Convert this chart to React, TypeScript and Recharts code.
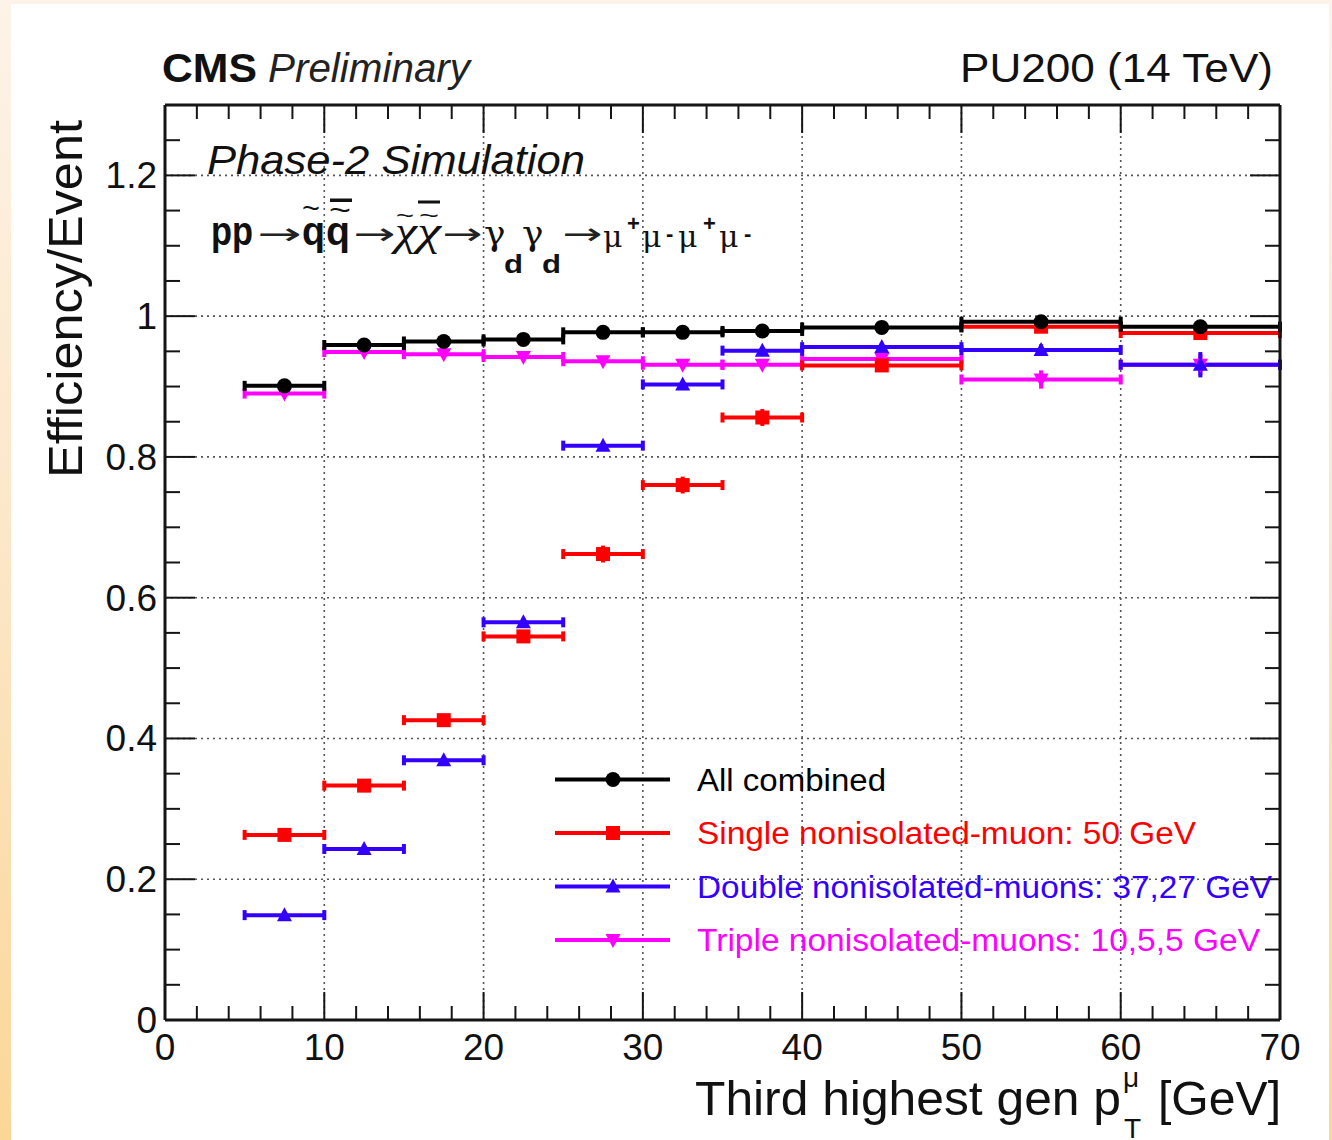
import React from 'react';
import { ComposedChart, Scatter, XAxis, YAxis, ErrorBar, ReferenceLine } from 'recharts';

// ---- data ----
const binCenters = [7.5, 12.5, 17.5, 22.5, 27.5, 32.5, 37.5, 45, 55, 65];
const binHalfWidths = [2.5, 2.5, 2.5, 2.5, 2.5, 2.5, 2.5, 5, 5, 5];

const allCombined = [0.901, 0.959, 0.964, 0.967, 0.977, 0.977, 0.979, 0.984, 0.992, 0.985];
const allCombinedErr = [0.004, 0.002, 0.002, 0.002, 0.002, 0.002, 0.002, 0.002, 0.003, 0.005];
const singleMuon = [0.263, 0.333, 0.426, 0.545, 0.662, 0.760, 0.856, 0.930, 0.985, 0.976];
const singleMuonErr = [0.005, 0.005, 0.005, 0.006, 0.012, 0.012, 0.012, 0.004, 0.004, 0.008];
const doubleMuon = [0.149, 0.243, 0.369, 0.565, 0.816, 0.903, 0.951, 0.956, 0.952, 0.931];
const doubleMuonErr = [0.004, 0.004, 0.005, 0.006, 0.005, 0.004, 0.004, 0.005, 0.008, 0.018];
const tripleMuon = [0.890, 0.949, 0.946, 0.942, 0.936, 0.931, 0.931, 0.939, 0.910, 0.931];
const tripleMuonErr = [0.004, 0.002, 0.002, 0.003, 0.003, 0.003, 0.003, 0.005, 0.013, 0.015];

const xTicks = [0, 2, 4, 6, 8, 10, 12, 14, 16, 18, 20, 22, 24, 26, 28, 30, 32, 34, 36, 38, 40, 42, 44, 46, 48, 50, 52, 54, 56, 58, 60, 62, 64, 66, 68, 70];
const xMajorTicks = [0, 10, 20, 30, 40, 50, 60, 70];
const yTicks = [0, 0.05, 0.1, 0.15, 0.2, 0.25, 0.3, 0.35, 0.4, 0.45, 0.5, 0.55, 0.6, 0.65, 0.7, 0.75, 0.8, 0.85, 0.9, 0.95, 1, 1.05, 1.1, 1.15, 1.2, 1.25, 1.3];
const yMajorTicks = [0, 0.2, 0.4, 0.6, 0.8, 1, 1.2];
const yMajorLabels = ['0', '0.2', '0.4', '0.6', '0.8', '1', '1.2'];
const xGridValues = [10, 20, 30, 40, 50, 60];
const yGridValues = [0.2, 0.4, 0.6, 0.8, 1, 1.2];

const seriesNames = [
  'All combined',
  'Single nonisolated-muon: 50 GeV',
  'Double nonisolated-muons: 37,27 GeV',
  'Triple nonisolated-muons: 10,5,5 GeV',
];

const BLACK = '#000000';
const RED = '#ff0000';
const BLUE = '#3300ff';
const MAGENTA = '#ff00ff';
const FONT = '"Liberation Sans", Arial, Helvetica, sans-serif';
const SERIF = '"Liberation Serif", "DejaVu Serif", serif';
const DSERIF = '"DejaVu Serif", serif';
const AXIS = '#151515';

const makeSeries = (vals: number[], errs: number[]) =>
  binCenters.map((x, i) => ({ x, y: vals[i], xe: binHalfWidths[i], ye: errs[i] }));

const dataAll = makeSeries(allCombined, allCombinedErr);
const dataSingle = makeSeries(singleMuon, singleMuonErr);
const dataDouble = makeSeries(doubleMuon, doubleMuonErr);
const dataTriple = makeSeries(tripleMuon, tripleMuonErr);

// ---- markers ----
const circleMarker = (c: string) => (p: any) => <circle cx={p.cx} cy={p.cy} r={7.5} fill={c} />;
const squareMarker = (c: string) => (p: any) => <rect x={p.cx - 7} y={p.cy - 7} width={14} height={14} fill={c} />;
const triUpMarker = (c: string) => (p: any) => (
  <polygon points={`${p.cx},${p.cy - 8} ${p.cx - 7.5},${p.cy + 6} ${p.cx + 7.5},${p.cy + 6}`} fill={c} />
);
const triDownMarker = (c: string) => (p: any) => (
  <polygon points={`${p.cx},${p.cy + 8} ${p.cx - 7.5},${p.cy - 6} ${p.cx + 7.5},${p.cy - 6}`} fill={c} />
);

const isMajorX = (v: number) => xMajorTicks.indexOf(v) >= 0;
const majorYIndex = (v: number) => yMajorTicks.findIndex((m) => Math.abs(m - v) < 1e-6);

// ---- ticks (ROOT style, inward) ----
const XTickBottom = (props: any) => {
  const { x, y, payload } = props;
  const major = isMajorX(payload.value);
  return (
    <g>
      <line x1={x} x2={x} y1={y} y2={y - (major ? 28 : 14)} stroke={AXIS} strokeWidth={2} />
      {major && (
        <text x={x} y={y + 40} textAnchor="middle" fontSize={37} fontFamily={FONT} fill="#111">
          {payload.value}
        </text>
      )}
    </g>
  );
};
const XTickTop = (props: any) => {
  const { x, y, payload } = props;
  const major = isMajorX(payload.value);
  return <line x1={x} x2={x} y1={y} y2={y + (major ? 28 : 14)} stroke={AXIS} strokeWidth={2} />;
};
const YTickLeft = (props: any) => {
  const { x, y, payload } = props;
  const mi = majorYIndex(payload.value);
  const major = mi >= 0;
  return (
    <g>
      <line x1={x} x2={x + (major ? 30 : 15)} y1={y} y2={y} stroke={AXIS} strokeWidth={2} />
      {major && (
        <text x={x - 8} y={y + 13} textAnchor="end" fontSize={37} fontFamily={FONT} fill="#111">
          {yMajorLabels[mi]}
        </text>
      )}
    </g>
  );
};
const YTickRight = (props: any) => {
  const { x, y, payload } = props;
  const major = majorYIndex(payload.value) >= 0;
  return <line x1={x} x2={x - (major ? 30 : 15)} y1={y} y2={y} stroke={AXIS} strokeWidth={2} />;
};

const axisLine = { stroke: AXIS, strokeWidth: 3 };

const seriesDefs = [
  { data: dataTriple, color: MAGENTA, marker: triDownMarker },
  { data: dataDouble, color: BLUE, marker: triUpMarker },
  { data: dataSingle, color: RED, marker: squareMarker },
  { data: dataAll, color: BLACK, marker: circleMarker },
];

const legendDefs = [
  { name: seriesNames[0], color: BLACK, marker: circleMarker, len: 189 },
  { name: seriesNames[1], color: RED, marker: squareMarker, len: 499 },
  { name: seriesNames[2], color: BLUE, marker: triUpMarker, len: 575 },
  { name: seriesNames[3], color: MAGENTA, marker: triDownMarker, len: 563 },
];

const Overlay = () => {
  const tilde = (x: number, y: number, len: number, size: number) => (
    <text x={x} y={y} fontSize={size} fontFamily={FONT} textLength={len} lengthAdjust="spacingAndGlyphs" fill="#111">~</text>
  );
  const arrow = (x: number, len: number) => (
    <text
      transform={`translate(${x},244) scale(${(len / 25).toFixed(3)},1)`}
      fontSize={30}
      fontFamily='"DejaVu Sans", sans-serif'
      fill="#222"
    >
      →
    </text>
  );
  const mu = (x: number) => (
    <text x={x} y={247} fontSize={30} fontFamily={DSERIF} fill="#111">μ</text>
  );
  const sup = (x: number, s: string) => (
    <text x={x} y={s === '+' ? 231 : 241} fontSize={22} fontWeight="bold" fontFamily={FONT} fill="#111">{s}</text>
  );
  return (
    <svg width={1332} height={1140} style={{ position: 'absolute', left: 0, top: 0, pointerEvents: 'none' }}>
      {/* header */}
      <text x={162} y={82} fontSize={40} fontWeight="bold" fontFamily={FONT} textLength={95} lengthAdjust="spacingAndGlyphs" fill="#111">CMS</text>
      <text x={268} y={82} fontSize={40} fontStyle="italic" fontFamily={FONT} textLength={202} lengthAdjust="spacingAndGlyphs" fill="#222">Preliminary</text>
      <text x={960} y={82} fontSize={40} fontFamily={FONT} textLength={313} lengthAdjust="spacingAndGlyphs" fill="#111">PU200 (14 TeV)</text>

      {/* inside labels */}
      <text x={207} y={174} fontSize={40} fontStyle="italic" fontFamily={FONT} textLength={378} lengthAdjust="spacingAndGlyphs" fill="#111">Phase-2 Simulation</text>

      {/* process formula */}
      <text x={211} y={245} fontSize={40} fontWeight="bold" fontFamily={FONT} textLength={42} lengthAdjust="spacingAndGlyphs" fill="#111">pp</text>
      {arrow(257, 44)}
      <text x={302} y={245} fontSize={40} fontWeight="bold" fontFamily={FONT} textLength={23} lengthAdjust="spacingAndGlyphs" fill="#111">q</text>
      <text x={326} y={245} fontSize={40} fontWeight="bold" fontFamily={FONT} textLength={24} lengthAdjust="spacingAndGlyphs" fill="#111">q</text>
      {tilde(302, 218, 18, 28)}
      {tilde(329, 220, 22, 28)}
      <rect x={330} y={198.5} width={22} height={3.5} fill="#111" />
      {arrow(353, 42)}
      <text x={395} y={245} fontSize={40} fontStyle="italic" fontFamily={SERIF} textLength={22} lengthAdjust="spacingAndGlyphs" fill="#111">χ</text>
      <text x={417} y={245} fontSize={40} fontStyle="italic" fontFamily={SERIF} textLength={24} lengthAdjust="spacingAndGlyphs" fill="#111">χ</text>
      {tilde(396, 223, 18, 22)}
      {tilde(419, 223, 20, 22)}
      <rect x={418} y={200.5} width={22} height={3} fill="#111" />
      {arrow(442, 40)}
      <text x={484} y={245} fontSize={36} fontFamily={DSERIF} fill="#111">γ</text>
      <text x={504} y={273} fontSize={26} fontWeight="bold" fontFamily={FONT} textLength={19} lengthAdjust="spacingAndGlyphs" fill="#111">d</text>
      <text x={522} y={245} fontSize={36} fontFamily={DSERIF} fill="#111">γ</text>
      <text x={542} y={273} fontSize={26} fontWeight="bold" fontFamily={FONT} textLength={19} lengthAdjust="spacingAndGlyphs" fill="#111">d</text>
      {arrow(562, 40)}
      {mu(603)}
      {sup(627, '+')}
      {mu(642)}
      {sup(666, '-')}
      {mu(678)}
      {sup(703, '+')}
      {mu(719)}
      {sup(744, '-')}

      {/* axis titles */}
      <text transform="translate(82,299) rotate(-90)" textAnchor="middle" fontSize={48} fontFamily={FONT} textLength={358} lengthAdjust="spacingAndGlyphs" fill="#111">Efficiency/Event</text>
      <text x={695} y={1115} fontSize={48} fontFamily={FONT} textLength={426} lengthAdjust="spacingAndGlyphs" fill="#111">Third highest gen p</text>
      <text x={1123} y={1087} fontSize={28} fontFamily={FONT} fill="#111">μ</text>
      <text x={1124} y={1138} fontSize={28} fontFamily={FONT} fill="#111">T</text>
      <text x={1158} y={1115} fontSize={48} fontFamily={FONT} textLength={123} lengthAdjust="spacingAndGlyphs" fill="#111">[GeV]</text>

      {/* legend */}
      {legendDefs.map((d, i) => {
        const ly = 779.5 + i * 53.5;
        return (
          <g key={d.name}>
            <line x1={555} x2={670} y1={ly} y2={ly} stroke={d.color} strokeWidth={4} />
            {d.marker(d.color)({ cx: 613, cy: ly })}
            <text x={697} y={ly + 11} fontSize={31} fontFamily={FONT} fill={d.color} textLength={d.len} lengthAdjust="spacingAndGlyphs">{d.name}</text>
          </g>
        );
      })}
    </svg>
  );
};

export default function App() {
  return (
    <div
      style={{
        position: 'absolute',
        left: 0,
        top: 0,
        width: 1332,
        height: 1140,
        overflow: 'hidden',
        background: 'linear-gradient(to bottom, #fdf3e8 0%, #fce6c6 50%, #fbd697 100%)',
      }}
    >
      <div style={{ position: 'absolute', left: 11, top: 4, width: 1318, height: 1136, background: '#ffffff' }} />
      <div style={{ position: 'absolute', left: 0, top: 0 }}>
        <ComposedChart width={1332} height={1140} margin={{ top: 104, left: 164, right: 51, bottom: 119 }}>
          <XAxis xAxisId="b" dataKey="x" type="number" domain={[0, 70]} ticks={xTicks} interval={0}
            orientation="bottom" height={1} tickSize={0} tickMargin={0} tick={<XTickBottom />} tickLine={false} axisLine={axisLine} allowDataOverflow />
          <XAxis xAxisId="t" dataKey="x" type="number" domain={[0, 70]} ticks={xTicks} interval={0}
            orientation="top" height={1} tickSize={0} tickMargin={0} tick={<XTickTop />} tickLine={false} axisLine={axisLine} allowDataOverflow />
          <YAxis yAxisId="l" dataKey="y" type="number" domain={[0, 1.3]} ticks={yTicks} interval={0}
            orientation="left" width={1} tickSize={0} tickMargin={0} tick={<YTickLeft />} tickLine={false} axisLine={axisLine} allowDataOverflow />
          <YAxis yAxisId="r" dataKey="y" type="number" domain={[0, 1.3]} ticks={yTicks} interval={0}
            orientation="right" width={1} tickSize={0} tickMargin={0} tick={<YTickRight />} tickLine={false} axisLine={axisLine} allowDataOverflow />
          {xGridValues.map((v) => (
            <ReferenceLine key={'gx' + v} xAxisId="b" yAxisId="l" x={v} stroke="#555" strokeWidth={1.6} strokeDasharray="2 4" />
          ))}
          {yGridValues.map((v) => (
            <ReferenceLine key={'gy' + v} xAxisId="b" yAxisId="l" y={v} stroke="#555" strokeWidth={1.6} strokeDasharray="2 4" />
          ))}
          {seriesDefs.map((s, i) => (
            <Scatter key={i} xAxisId="b" yAxisId="l" data={s.data} dataKey="y" fill={s.color}
              shape={s.marker(s.color)} isAnimationActive={false}>
              <ErrorBar dataKey="xe" direction="x" width={5} strokeWidth={4} stroke={s.color} isAnimationActive={false} />
              <ErrorBar dataKey="ye" direction="y" width={0} strokeWidth={4} stroke={s.color} isAnimationActive={false} />
            </Scatter>
          ))}
        </ComposedChart>
      </div>
      <Overlay />
    </div>
  );
}
